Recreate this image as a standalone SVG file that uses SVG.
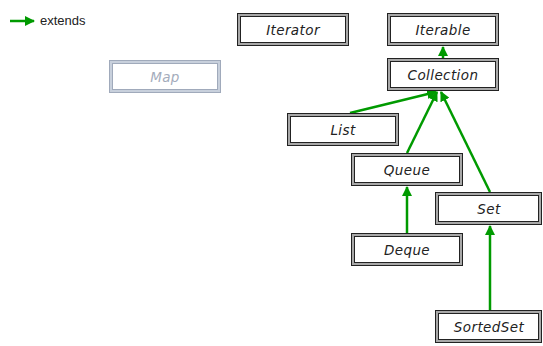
<svg xmlns="http://www.w3.org/2000/svg" width="543" height="346" viewBox="0 0 543 346">
<style>
.o{fill:#a8a8a8;stroke:#222;stroke-width:1}
.i{fill:#fff;stroke:#222;stroke-width:1}
.t{font-family:"DejaVu Sans","Liberation Sans",Arial,sans-serif;font-size:13.5px;font-style:italic;letter-spacing:0.4px;fill:#222;text-anchor:middle}
.mo{fill:#c8d0dc;stroke:#a0aabb;stroke-width:1}
.mi{fill:#fff;stroke:#a0aabb;stroke-width:1}
.mt{font-family:"DejaVu Sans","Liberation Sans",Arial,sans-serif;font-size:13.5px;font-style:italic;letter-spacing:0.4px;fill:#a4acbc;text-anchor:middle}
.e{stroke:#009a00;stroke-width:2.5;fill:none;marker-end:url(#a)}
</style>
<defs>
<marker id="a" viewBox="0 0 10 10" refX="9" refY="5" markerWidth="4" markerHeight="4" orient="auto" markerUnits="strokeWidth">
<path d="M0,0 L10,5 L0,10 z" fill="#009a00"/>
</marker>
</defs>
<g id="legend">
<line x1="10" y1="21" x2="34" y2="21" class="e"/>
<text x="40" y="25" style="font-family:'Liberation Sans',Arial,sans-serif;font-size:13px;fill:#222">extends</text>
</g>
<g id="connectors">
<line class="e" x1="443" y1="58" x2="443" y2="47"/>
<line class="e" x1="350" y1="113" x2="436" y2="92"/>
<line class="e" x1="407" y1="153" x2="437" y2="92"/>
<line class="e" x1="490" y1="192" x2="441" y2="92"/>
<line class="e" x1="407" y1="233" x2="407" y2="187"/>
<line class="e" x1="490" y1="310" x2="490" y2="226"/>
</g>
<g id="Iterator"><rect class="o" x="237.5" y="13.5" width="111" height="32"/><rect class="i" x="240.5" y="16.5" width="105" height="26"/><text class="t" x="293" y="35">Iterator</text></g>
<g id="Iterable"><rect class="o" x="387.5" y="13.5" width="111" height="32"/><rect class="i" x="390.5" y="16.5" width="105" height="26"/><text class="t" x="443" y="35">Iterable</text></g>
<g id="Collection"><rect class="o" x="387.5" y="58.5" width="111" height="32"/><rect class="i" x="390.5" y="61.5" width="105" height="26"/><text class="t" x="443" y="80">Collection</text></g>
<g id="Map"><rect class="mo" x="109.5" y="60.5" width="111" height="32"/><rect class="mi" x="112.5" y="63.5" width="105" height="26"/><text class="mt" x="165" y="82">Map</text></g>
<g id="List"><rect class="o" x="287.5" y="113.5" width="111" height="32"/><rect class="i" x="290.5" y="116.5" width="105" height="26"/><text class="t" x="343" y="135">List</text></g>
<g id="Queue"><rect class="o" x="351.5" y="153.5" width="111" height="32"/><rect class="i" x="354.5" y="156.5" width="105" height="26"/><text class="t" x="407" y="175">Queue</text></g>
<g id="Set"><rect class="o" x="435.5" y="192.5" width="106" height="32"/><rect class="i" x="438.5" y="195.5" width="100" height="26"/><text class="t" x="489" y="214">Set</text></g>
<g id="Deque"><rect class="o" x="351.5" y="233.5" width="111" height="32"/><rect class="i" x="354.5" y="236.5" width="105" height="26"/><text class="t" x="407" y="255">Deque</text></g>
<g id="SortedSet"><rect class="o" x="435.5" y="310.5" width="106" height="32"/><rect class="i" x="438.5" y="313.5" width="100" height="26"/><text class="t" x="489" y="332">SortedSet</text></g>
</svg>
